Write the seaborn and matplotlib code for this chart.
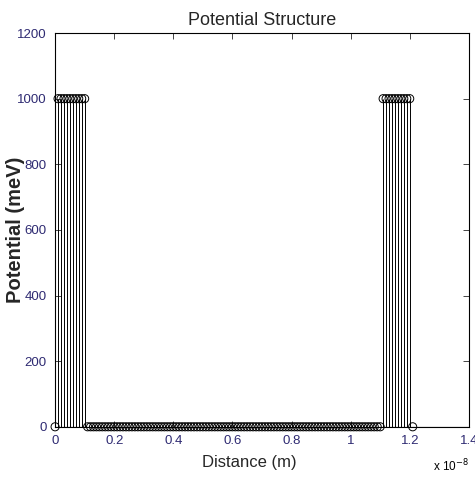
import numpy as np
import pandas as pd
import matplotlib
matplotlib.use("Agg")
import matplotlib.pyplot as plt
import seaborn as sns

# grid in units of 1e-8 m (step 0.01)
n_edge = 1        # zero point at each end
n_barrier = 10    # points on each barrier top
n_well = 100      # points in the well
barrier_height = 1000  # meV
distance = np.round(np.arange(0, 1.22, 0.01), 2)
potential = ([0] * n_edge + [barrier_height] * n_barrier + [0] * n_well
             + [barrier_height] * n_barrier + [0] * n_edge)

df = pd.DataFrame({"x": distance, "V": potential})

sns.set_style("ticks")
plt.rcParams['font.family'] = ['Liberation Sans', 'DejaVu Sans']
tick_col = '#2e2a72'

fig = plt.figure(figsize=(4.75, 4.79), dpi=100)
ax = fig.add_axes([0.116, 0.109, 0.871, 0.822])

# stems
ax.vlines(df["x"], 0, df["V"], color='black', linewidth=0.7)
ax.axhline(0, color='black', linewidth=0.8)
sns.scatterplot(data=df, x="x", y="V", ax=ax, marker='o', s=34,
                facecolor='none', edgecolor='black', linewidth=0.7,
                legend=False, zorder=3, clip_on=False)

ax.set_xlim(0, 1.4)
ax.set_ylim(0, 1200)
ax.set_xticks(np.arange(0, 1.41, 0.2))
ax.set_xticklabels(['0', '0.2', '0.4', '0.6', '0.8', '1', '1.2', '1.4'])
ax.set_yticks(np.arange(0, 1201, 200))
ax.tick_params(direction='in', top=True, right=True, length=4, width=0.6,
               labelsize=9.5, labelcolor=tick_col)
ax.tick_params(axis='x', pad=6)
ax.tick_params(axis='y', pad=6)
for s in ax.spines.values():
    s.set_visible(True)
    s.set_linewidth(0.8)
    s.set_color('black')

ax.set_title("Potential Structure", fontsize=13, pad=6)
ax.set_xlabel("Distance (m)", fontsize=12)
ax.xaxis.set_label_coords(0.47, -0.072)
ax.set_ylabel("Potential (meV)", fontsize=14.5, fontweight='bold')
ax.yaxis.set_label_coords(-0.073, 0.5)
ax.text(1.0, -0.078, r"x 10$^{-8}$", transform=ax.transAxes, ha='right',
        va='top', fontsize=8.5, color='black')

fig.savefig("out.png", dpi=100)
